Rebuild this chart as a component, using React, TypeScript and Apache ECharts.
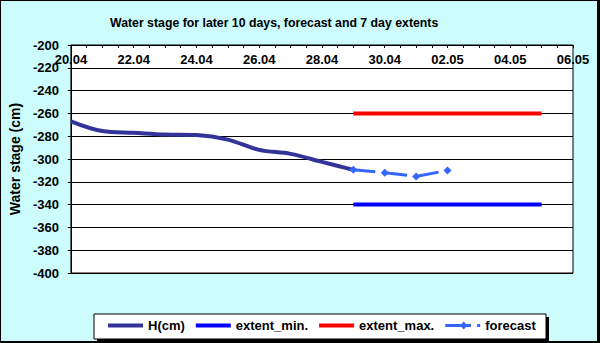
import React, { useEffect, useRef } from "react";
import * as echarts from "echarts";

// Day labels from 20.04 to 06.05 (x = day index)
const days = ["20.04","21.04","22.04","23.04","24.04","25.04","26.04","27.04","28.04","29.04","30.04","01.05","02.05","03.05","04.05","05.05","06.05"];
// Observed water stage H(cm), 20.04 .. 29.04
const hValues = [-267, -275.5, -277, -278.5, -279, -283, -292, -295.5, -302.5, -309.5];
// Forecast, 29.04 .. 02.05
const forecastStart = 9;
const forecastValues = [-309.5, -312, -315.3, -310];
// 7-day extents, 29.04 .. 05.05
const extentStart = 9;
const extentEnd = 15;
const extentMinValue = -340;
const extentMaxValue = -260;

const FONT = "'Liberation Sans', Arial, sans-serif";

const LINE_ICON = "path://M0,0 L37,0 L37,4 L0,4 Z";
const FORECAST_ICON = "path://M0,5.5 L25,5.5 L25,8.5 L0,8.5 Z M18,3 L21.5,7 L18,11 L14.5,7 Z M31,5.5 L34,5.5 L34,8.5 L31,8.5 Z";

export default function App() {
  const ref = useRef<HTMLDivElement>(null);
  useEffect(() => {
    document.body.style.margin = "0";
    if (!ref.current) return;
    const chart = echarts.init(ref.current, null, { renderer: "svg" });
    const hData = hValues.map((v, i) => [i, v]);
    const fData = forecastValues.map((v, i) => [forecastStart + i, v]);
    const minData = [[extentStart, extentMinValue], [extentEnd, extentMinValue]];
    const maxData = [[extentStart, extentMaxValue], [extentEnd, extentMaxValue]];
    chart.setOption({
      animation: false,
      backgroundColor: "#000000",
      textStyle: { fontFamily: FONT },
      graphic: [
        { type: "rect", z: -10, shape: { x: 1, y: 1, width: 596, height: 340 }, style: { fill: "#ccfcfc" } },
        { type: "rect", z: 1, shape: { x: 97, y: 317, width: 452, height: 25 }, style: { fill: "#000" } },
        { type: "rect", z: 2, shape: { x: 94, y: 314, width: 452, height: 25 }, style: { fill: "#fff", stroke: "#000", lineWidth: 1 } },
        {
          type: "text", z: 5, left: 110, top: 17,
          style: { text: "Water stage for later 10 days, forecast and 7 day extents", font: `bold 12.3px ${FONT}`, fill: "#000" },
        },
      ],
      legend: {
        left: 108,
        top: 319,
        padding: 0,
        itemWidth: 35,
        itemHeight: 14,
        itemGap: 11,
        textStyle: { fontFamily: FONT, fontWeight: "bold", fontSize: 13, color: "#000" },
        data: [
          { name: "H(cm)", icon: LINE_ICON },
          { name: "extent_min.", icon: LINE_ICON },
          { name: "extent_max.", icon: LINE_ICON },
          { name: "forecast", icon: FORECAST_ICON },
        ],
      },
      grid: {
        left: 65, top: 45, width: 508, height: 228,
        show: true, backgroundColor: "#fff", borderColor: "#000", borderWidth: 1,
      },
      xAxis: {
        type: "value",
        position: "top",
        min: 0,
        max: days.length - 1,
        interval: 2,
        axisLine: { show: true, lineStyle: { color: "#000", width: 1 } },
        axisTick: { show: true, inside: true, length: 3, lineStyle: { color: "#000" } },
        minorTick: { show: true, splitNumber: 4, length: 3, lineStyle: { color: "#000" } },
        splitLine: { show: false },
        axisLabel: {
          inside: true,
          margin: 8,
          color: "#000",
          fontFamily: FONT,
          fontWeight: "bold",
          fontSize: 13,
          formatter: (v: number) => days[Math.round(v)] ?? "",
        },
      },
      yAxis: {
        type: "value",
        min: -400,
        max: -200,
        interval: 20,
        name: "Water stage (cm)",
        nameLocation: "middle",
        nameRotate: 90,
        nameGap: 42,
        nameTextStyle: { fontFamily: FONT, fontWeight: "bold", fontSize: 14, color: "#000" },
        axisLine: { show: true, lineStyle: { color: "#000", width: 1 } },
        axisTick: { show: true, length: 3, lineStyle: { color: "#000" } },
        splitLine: { show: true, lineStyle: { color: "#000", width: 1 } },
        axisLabel: { margin: 12, color: "#000", fontFamily: FONT, fontWeight: "bold", fontSize: 13 },
      },
      series: [
        {
          name: "H(cm)", type: "line", data: hData, smooth: 0.35, symbol: "none",
          lineStyle: { color: "#333399", width: 4 }, itemStyle: { color: "#333399" }, z: 4,
        },
        {
          name: "extent_min.", type: "line", data: minData, symbol: "none",
          lineStyle: { color: "#0000ff", width: 4 }, itemStyle: { color: "#0000ff" },
        },
        {
          name: "extent_max.", type: "line", data: maxData, symbol: "none",
          lineStyle: { color: "#ff0000", width: 4 }, itemStyle: { color: "#ff0000" },
        },
        {
          name: "forecast", type: "line", data: fData, symbol: "diamond", symbolSize: 8, showSymbol: true,
          lineStyle: { color: "#3366ff", width: 3, type: [22, 10] }, itemStyle: { color: "#3366ff" }, z: 5,
        },
      ],
    });
    return () => chart.dispose();
  }, []);
  return <div ref={ref} style={{ width: 600, height: 343 }} />;
}
